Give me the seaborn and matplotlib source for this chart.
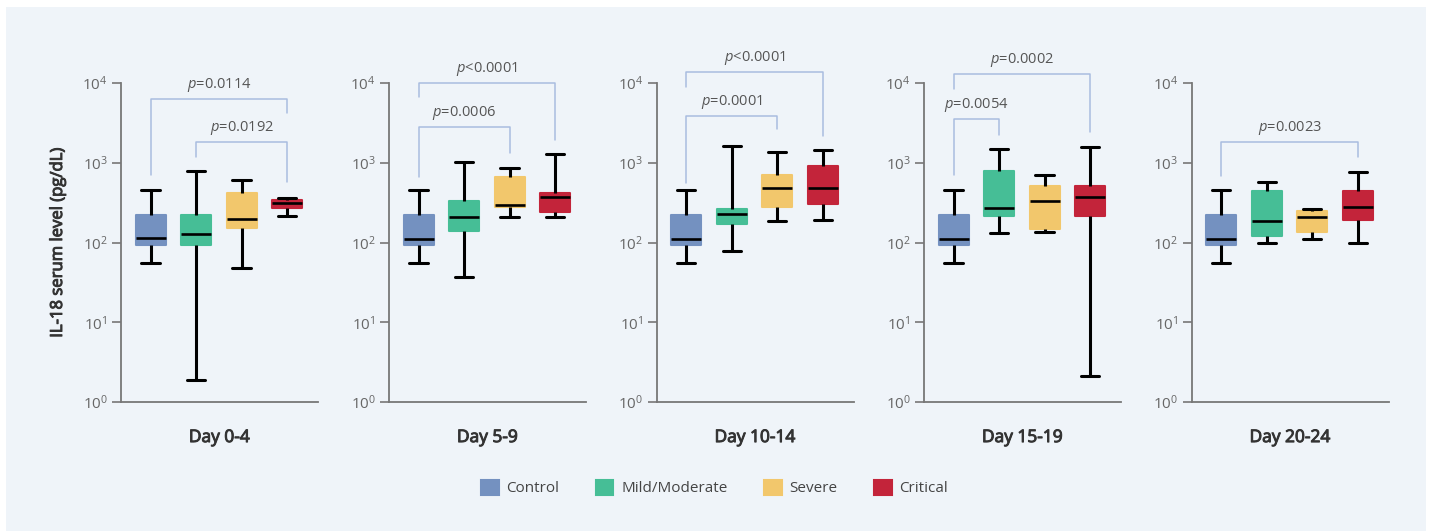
import numpy as np
import pandas as pd
import seaborn as sns
import matplotlib
matplotlib.use("Agg")
from matplotlib import pyplot as plt
from matplotlib.patches import Patch, Rectangle
import matplotlib.patheffects as pe

sns.set_theme(style="white")
plt.rcParams['font.family'] = ['Open Sans', 'DejaVu Sans']
plt.rcParams['mathtext.fontset'] = 'custom'
plt.rcParams['mathtext.rm'] = 'Open Sans'
plt.rcParams['mathtext.it'] = 'Open Sans:italic'

days = ["Day 0-4", "Day 5-9", "Day 10-14", "Day 15-19", "Day 20-24"]
groups = ["Control", "Mild/Moderate", "Severe", "Critical"]
colors = ["#7491c0", "#46be96", "#f2c76c", "#c3243a"]

# five-number summaries per group: min, q1, median, q3, max  (pg/dL)
day_0_4 = [[55, 92, 114, 219, 455], [1.87, 92, 129, 219, 788],
           [47.5, 151, 199, 421, 608], [213, 268, 313, 338, 365]]
day_5_9 = [[55, 92, 112, 219, 455], [36.6, 139, 211, 331, 1031],
           [207, 279, 295, 669, 851], [207, 239, 376, 414, 1276]]
day_10_14 = [[55, 92, 112, 219, 455], [77.5, 172, 230, 266, 1636],
             [184, 279, 487, 696, 1352], [191, 301, 487, 910, 1445]]
day_15_19 = [[55, 92, 112, 219, 455], [130, 217, 273, 796, 1487],
             [134, 146, 331, 506, 696], [2.1, 217, 376, 506, 1561]]
day_20_24 = [[55, 92, 112, 219, 455], [97.7, 122, 186, 442, 574],
             [112, 134, 211, 250, 266], [100, 191, 281, 442, 759]]
summaries = [day_0_4, day_5_9, day_10_14, day_15_19, day_20_24]

# significance brackets: (left group, right group, top, left foot, right foot, label)
brackets = [
    [(0, 3, 6300, 702, 4170, "$p$=0.0114"), (1, 3, 1805, 1191, 569, "$p$=0.0192")],
    [(0, 2, 2833, 669, 1314, "$p$=0.0006"), (0, 3, 10000, 6730, 1928, "$p$<0.0001")],
    [(0, 2, 3856, 562, 2626, "$p$=0.0001"), (0, 3, 13740, 8830, 2183, "$p$<0.0001")],
    [(0, 1, 3570, 702, 2228, "$p$=0.0054"), (0, 3, 12850, 8340, 2453, "$p$=0.0002")],
    [(0, 3, 1805, 682, 1191, "$p$=0.0023")],
]

bg = "#eff4f9"
W, H = 1429, 531
fig = plt.figure(figsize=(W / 100, H / 100), dpi=100, facecolor="white")
fig.patches.append(Rectangle((6 / W, 0), 1420 / W, 524 / H, transform=fig.transFigure,
                             facecolor=bg, edgecolor="none", zorder=-10))

# semibold look: regular weight with a thin outline
semi = [pe.withStroke(linewidth=0.7, foreground="#333333")]

lefts = [121, 389, 656.7, 924, 1191.7]
for i, day in enumerate(days):
    ax = fig.add_axes([lefts[i] / W, 129 / H, 197 / W, 319 / H])
    ax.set_facecolor("none")
    rows = []
    for g, s in zip(groups, summaries[i]):
        for v in s:
            rows.append({"group": g, "value": v})
    df = pd.DataFrame(rows)
    sns.boxplot(data=df, x="group", y="value", hue="group", order=groups, hue_order=groups,
                palette=colors, width=0.66, whis=(0, 100), log_scale=True, legend=False,
                linecolor="black", linewidth=2.2, saturation=1, capwidths=0.4,
                medianprops=dict(linewidth=1.9), ax=ax)
    for p in ax.patches:
        fc = p.get_facecolor()
        p.set_edgecolor(fc)
        p.set_linewidth(1.5)
        p.set_joinstyle("round")
    ax.set_ylim(1, 1e4)
    ax.set_xlim(-0.65, 3.68)
    ax.set_xticks([])
    ax.set_xlabel("")
    ax.set_ylabel("")
    ax.set_yticks([1, 10, 100, 1000, 10000])
    ax.minorticks_off()
    for side in ["top", "right"]:
        ax.spines[side].set_visible(False)
    for side in ["left", "bottom"]:
        ax.spines[side].set_color("#777777")
        ax.spines[side].set_linewidth(1.3)
    ax.tick_params(axis="y", left=True, length=6.5, width=1.2, color="#777777",
                   labelsize=11, labelcolor="#666666", pad=3)
    ax.text(0.5, -0.088, day, transform=ax.transAxes, ha="center", va="top",
            fontsize=12.5, color="#333333", path_effects=semi)

    for (a, b, top, fa, fb, txt) in brackets[i]:
        ax.plot([a, a, b, b], [fa, top, top, fb], color="#a9bde0", lw=1.1, clip_on=False)
        ax.annotate(txt, xy=((a + b) / 2, top), xytext=(0, 10), textcoords="offset points",
                    ha="center", va="center", fontsize=10.5, color="#555555",
                    annotation_clip=False)

fig.text(58 / W, 1 - 243 / H, "IL-18 serum level (pg/dL)", rotation=90, ha="center",
         va="center", fontsize=12, color="#333333", path_effects=semi)

handles = [Patch(facecolor=c, edgecolor=c, linewidth=1.5, joinstyle="round", label=g)
           for g, c in zip(groups, colors)]
fig.legend(handles=handles, loc="center", bbox_to_anchor=(0.5, 1 - 488 / H), ncol=4,
           frameon=False, fontsize=11, labelcolor="#444444", handlelength=1.15,
           handleheight=1.15, handletextpad=0.5, columnspacing=2.4)

fig.savefig("out.png", dpi=100, facecolor="white")
